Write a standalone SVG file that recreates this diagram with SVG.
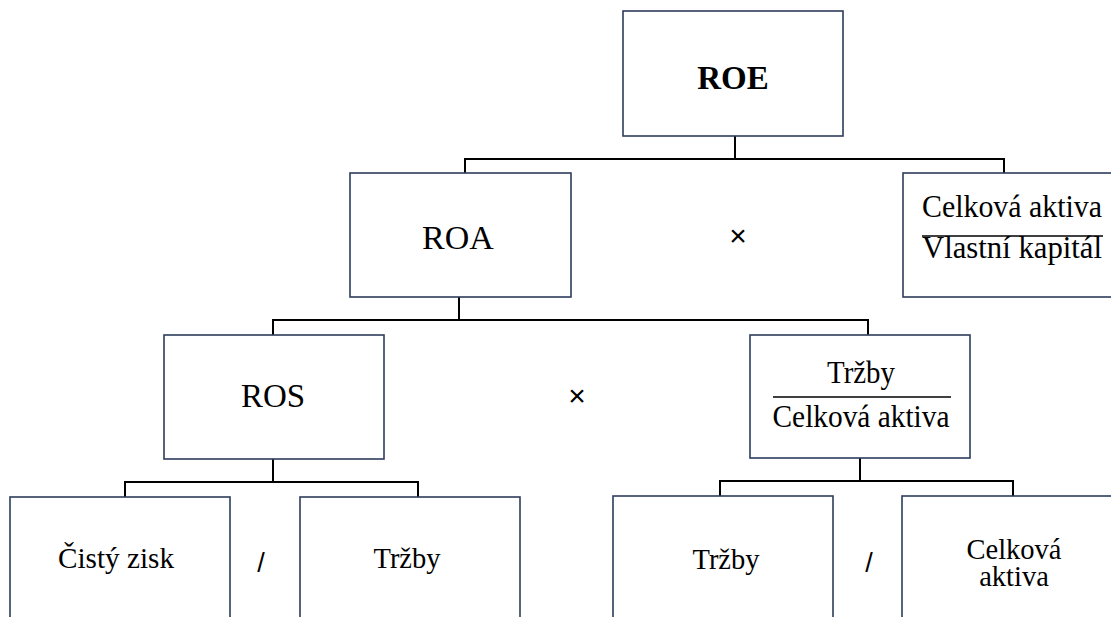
<svg xmlns="http://www.w3.org/2000/svg" width="1111" height="617" viewBox="0 0 1111 617">
<style>
.box{fill:#fff;stroke:#2e3c5c;stroke-width:1.6}
.con{fill:none;stroke:#000;stroke-width:2}
.t{font-family:'Liberation Serif',serif;fill:#000;text-anchor:middle}
.op{font-family:'Liberation Sans',sans-serif;fill:#000;text-anchor:middle}
.bar{stroke:#000;stroke-width:1.4}
</style>
<rect width="1111" height="617" fill="#fff"/>
<g id="connectors">
<path class="con" d="M735,136V159M465,173V159H1004V173"/>
<path class="con" d="M459,297V320M273,335V320H868V335"/>
<path class="con" d="M273,459V482M125,497V482H418V497"/>
<path class="con" d="M860,458V481M720,496V481H1013V496"/>
</g>
<g id="roe">
<rect class="box" x="623" y="11" width="220" height="125"/>
<text class="t" x="733" y="89" font-size="33" font-weight="bold">ROE</text>
</g>
<g id="roa">
<rect class="box" x="350" y="173" width="221" height="124"/>
<text class="t" x="458" y="249" font-size="34">ROA</text>
</g>
<g id="ca-vk">
<rect class="box" x="903" y="173" width="230" height="124"/>
<text class="t" x="1012" y="217" font-size="31" textLength="180" lengthAdjust="spacingAndGlyphs">Celková aktiva</text>
<line class="bar" x1="922" y1="236" x2="1103" y2="236"/>
<text class="t" x="1012" y="258" font-size="31" textLength="180" lengthAdjust="spacingAndGlyphs">Vlastní kapitál</text>
</g>
<g id="ros">
<rect class="box" x="164" y="335" width="220" height="124"/>
<text class="t" x="273" y="407" font-size="33">ROS</text>
</g>
<g id="t-ca">
<rect class="box" x="750" y="335" width="220" height="123"/>
<text class="t" x="861" y="383" font-size="31" textLength="68" lengthAdjust="spacingAndGlyphs">Tržby</text>
<line class="bar" x1="773" y1="397" x2="951" y2="397"/>
<text class="t" x="861" y="427" font-size="31" textLength="177" lengthAdjust="spacingAndGlyphs">Celková aktiva</text>
</g>
<g id="cisty-zisk">
<rect class="box" x="10" y="497" width="220" height="140"/>
<text class="t" x="116" y="568" font-size="28.5" textLength="116" lengthAdjust="spacingAndGlyphs">Čistý zisk</text>
</g>
<g id="trzby1">
<rect class="box" x="300" y="497" width="220" height="140"/>
<text class="t" x="407" y="568" font-size="28.5">Tržby</text>
</g>
<g id="trzby2">
<rect class="box" x="613" y="496" width="220" height="140"/>
<text class="t" x="726" y="569" font-size="28.5">Tržby</text>
</g>
<g id="celkova-aktiva">
<rect class="box" x="902" y="496" width="230" height="140"/>
<text class="t" x="1014" y="559" font-size="28.5">Celková</text>
<text class="t" x="1014" y="586" font-size="28.5">aktiva</text>
</g>
<g id="op1"><text class="op" x="738" y="246" font-size="30">×</text></g>
<g id="op2"><text class="op" x="577" y="406" font-size="30">×</text></g>
<g id="op3"><text class="op" x="261" y="572" font-size="27">/</text></g>
<g id="op4"><text class="op" x="869" y="572" font-size="27">/</text></g>
</svg>
